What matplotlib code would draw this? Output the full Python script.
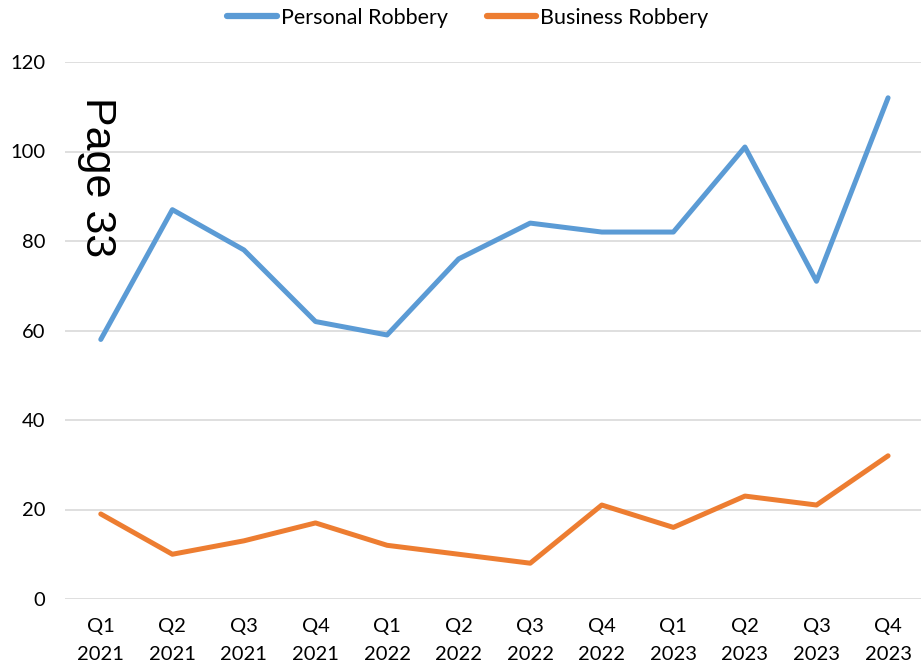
import matplotlib
matplotlib.use('Agg')
import matplotlib.pyplot as plt

quarters = ['Q1\n2021', 'Q2\n2021', 'Q3\n2021', 'Q4\n2021',
            'Q1\n2022', 'Q2\n2022', 'Q3\n2022', 'Q4\n2022',
            'Q1\n2023', 'Q2\n2023', 'Q3\n2023', 'Q4\n2023']
personal = [58, 87, 78, 62, 59, 76, 84, 82, 82, 101, 71, 112]
business = [19, 10, 13, 17, 12, 10, 8, 21, 16, 23, 21, 32]

plt.rcParams['font.family'] = ['Lato', 'DejaVu Sans']

W, H = 921, 668
fig = plt.figure(figsize=(W / 100, H / 100), dpi=100)
# axes box in pixels: left 65, right 921, y=0 at 599, y=120 at 62
ax = fig.add_axes([65 / W, (H - 599) / H, (921 - 65) / W, (599 - 62) / H])

x = list(range(len(quarters)))
ax.plot(x, personal, color='#5B9BD5', lw=3.6, label='Personal Robbery', solid_capstyle='round')
ax.plot(x, business, color='#ED7D31', lw=3.6, label='Business Robbery', solid_capstyle='round')

ax.set_ylim(0, 120)
ax.set_xlim(-0.5, 11.46)
ax.set_yticks(range(0, 121, 20))
ax.set_xticks(x)
ax.set_xticklabels(quarters, fontsize=14.5, linespacing=1.75)
ax.tick_params(axis='y', labelsize=14.5, length=0, pad=14)
ax.tick_params(axis='x', length=0, pad=14)
ax.grid(axis='y', color='#D9D9D9', lw=1.2)
ax.set_axisbelow(True)
for s in ax.spines.values():
    s.set_visible(False)

leg = fig.legend(loc='upper center', bbox_to_anchor=(0.508, 1.017), ncol=2, frameon=False,
                 fontsize=15.5, handlelength=2.3, handletextpad=0.2, columnspacing=1.8)
for h in leg.get_lines():
    h.set_linewidth(4.5)
    h.set_solid_capstyle('round')

fig.text(97 / W, 1 - 177 / H, 'Page 33', rotation=-90, fontsize=31,
         family='Liberation Sans', ha='center', va='center')

fig.savefig('out.png', dpi=100)
